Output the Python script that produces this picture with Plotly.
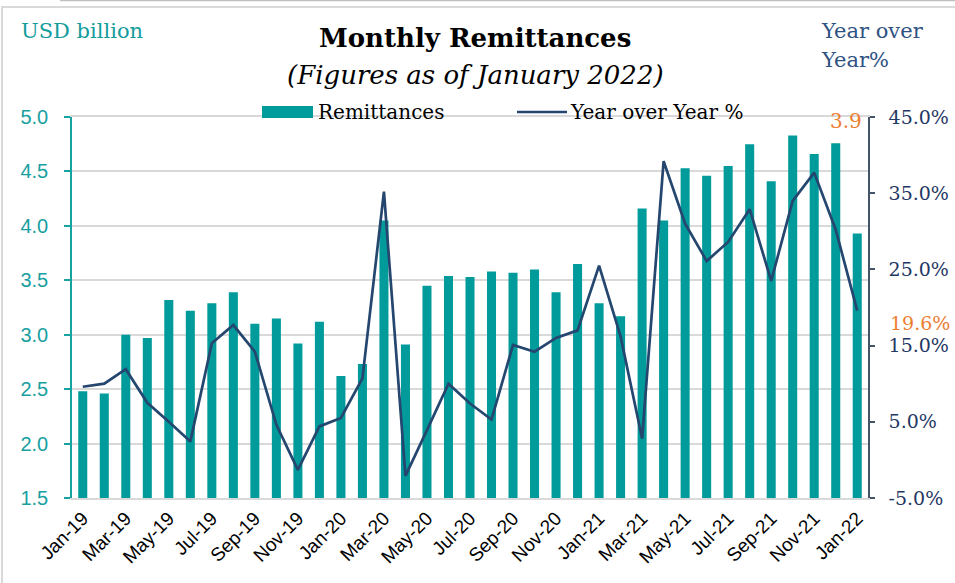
import plotly.graph_objects as go

months = ["Jan-19", "Feb-19", "Mar-19", "Apr-19", "May-19", "Jun-19", "Jul-19", "Aug-19",
          "Sep-19", "Oct-19", "Nov-19", "Dec-19", "Jan-20", "Feb-20", "Mar-20", "Apr-20",
          "May-20", "Jun-20", "Jul-20", "Aug-20", "Sep-20", "Oct-20", "Nov-20", "Dec-20",
          "Jan-21", "Feb-21", "Mar-21", "Apr-21", "May-21", "Jun-21", "Jul-21", "Aug-21",
          "Sep-21", "Oct-21", "Nov-21", "Dec-21", "Jan-22"]

remittances = [2.48, 2.46, 3.00, 2.97, 3.32, 3.22, 3.29, 3.39, 3.10, 3.15, 2.92, 3.12,
               2.62, 2.73, 4.05, 2.91, 3.45, 3.54, 3.53, 3.58, 3.57, 3.60, 3.39, 3.65,
               3.29, 3.17, 4.16, 4.05, 4.53, 4.46, 4.55, 4.75, 4.41, 4.83, 4.66, 4.76, 3.93]

yoy = [9.6, 10.0, 11.9, 7.5, 5.0, 2.4, 15.3, 17.7, 14.2, 4.6, -1.3, 4.4,
       5.5, 10.7, 35.2, -2.1, 3.9, 10.0, 7.4, 5.3, 15.1, 14.2, 16.0, 17.0,
       25.5, 16.2, 2.8, 39.2, 31.0, 26.1, 28.6, 32.9, 23.5, 34.0, 37.7, 30.2, 19.6]

tick_labels = months[::2]
left_ticks = [1.5, 2.0, 2.5, 3.0, 3.5, 4.0, 4.5, 5.0]
left_tick_text = ["1.5", "2.0", "2.5", "3.0", "3.5", "4.0", "4.5", "5.0"]
right_ticks = [-5, 5, 15, 25, 35, 45]
right_tick_text = ["-5.0%", "5.0%", "15.0%", "25.0%", "35.0%", "45.0%"]

TEAL = "#009B9A"
NAVY = "#24466F"
ORANGE = "#ED7D31"
SERIF = "DejaVu Serif"
SANS = "Liberation Sans"

fig = go.Figure()
fig.add_trace(go.Bar(x=months, y=remittances, name="Remittances",
                     marker=dict(color=TEAL, line=dict(width=0)), width=0.42))
fig.add_trace(go.Scatter(x=months, y=yoy, name="Year over Year %", yaxis="y2",
                         mode="lines", line=dict(color=NAVY, width=2.7)))

L, R, T, B = 72, 87, 117, 85
W, H = 955, 583
pw, ph = W - L - R, H - T - B

def px(x):
    return (x - L) / pw

def py(y):
    return (H - B - y) / ph

fig.update_layout(
    width=W, height=H,
    margin=dict(l=L, r=R, t=T, b=B, autoexpand=False),
    plot_bgcolor="white", paper_bgcolor="white",
    showlegend=False,
    xaxis=dict(type="category", tickmode="array", tickvals=tick_labels, ticktext=tick_labels,
               tickangle=-45, tickfont=dict(family=SANS, size=19, color="#000000"),
               showgrid=False, showline=True, linecolor="#D9D9D9", linewidth=1.5, mirror=True,
               ticks="", range=[-0.5, len(months) - 0.5], automargin=False),
    yaxis=dict(range=[1.5, 5.0], tickmode="array", tickvals=left_ticks, ticktext=left_tick_text,
               tickfont=dict(family=SANS, size=20, color="#17A0A0"),
               showgrid=True, gridcolor="#D9D9D9", gridwidth=1.5,
               showline=True, linecolor="#17A2A2", linewidth=1.5,
               ticks="outside", ticklen=6, tickcolor="#17A2A2", tickwidth=1.5,
               ticklabelstandoff=12, zeroline=False, automargin=False),
    yaxis2=dict(range=[-5, 45], overlaying="y", side="right", tickmode="array",
                tickvals=right_ticks, ticktext=right_tick_text,
                tickfont=dict(family=SERIF, size=19, color="#1F3864"),
                showgrid=False, showline=True, linecolor="#44546A", linewidth=1.5,
                ticks="outside", ticklen=5, tickcolor="#44546A", tickwidth=1.5,
                ticklabelstandoff=10, zeroline=False, automargin=False),
)

ann = []
ann.append(dict(text="<b>Monthly Remittances</b>", x=px(475), y=py(38), xref="paper", yref="paper",
                showarrow=False, xanchor="center", yanchor="middle",
                font=dict(family=SERIF, size=26, color="#000000")))
ann.append(dict(text="<i>(Figures as of January 2022)</i>", x=px(475), y=py(75), xref="paper", yref="paper",
                showarrow=False, xanchor="center", yanchor="middle",
                font=dict(family=SERIF, size=26, color="#000000")))
ann.append(dict(text="USD billion", x=px(19), y=py(31), xref="paper", yref="paper",
                showarrow=False, xanchor="left", yanchor="middle",
                font=dict(family=SERIF, size=21, color="#139C9C")))
ann.append(dict(text="Year over", x=px(819), y=py(31), xref="paper", yref="paper",
                showarrow=False, xanchor="left", yanchor="middle",
                font=dict(family=SERIF, size=21, color="#2F5283")))
ann.append(dict(text="Year%", x=px(819), y=py(60), xref="paper", yref="paper",
                showarrow=False, xanchor="left", yanchor="middle",
                font=dict(family=SERIF, size=21, color="#2F5283")))
ann.append(dict(text="3.9", x=px(864), y=py(121), xref="paper", yref="paper",
                showarrow=False, xanchor="right", yanchor="middle",
                font=dict(family=SERIF, size=20, color=ORANGE)))
ann.append(dict(text="19.6%", x=px(888), y=py(323), xref="paper", yref="paper",
                showarrow=False, xanchor="left", yanchor="middle",
                font=dict(family=SERIF, size=19, color=ORANGE)))
# legend
ann.append(dict(text="Remittances", x=px(316), y=py(112), xref="paper", yref="paper",
                showarrow=False, xanchor="left", yanchor="middle",
                font=dict(family=SERIF, size=20, color="#000000")))
ann.append(dict(text="Year over Year %", x=px(568), y=py(112), xref="paper", yref="paper",
                showarrow=False, xanchor="left", yanchor="middle",
                font=dict(family=SERIF, size=20, color="#000000")))

shapes = [
    dict(type="rect", xref="paper", yref="paper", x0=px(262), x1=px(313), y0=py(118), y1=py(106),
         fillcolor=TEAL, line=dict(width=0)),
    dict(type="line", xref="paper", yref="paper", x0=px(517), x1=px(567), y0=py(112), y1=py(112),
         line=dict(color=NAVY, width=2.7)),
    dict(type="line", xref="paper", yref="paper", x0=px(1), x1=px(960), y0=py(7), y1=py(7),
         line=dict(color="#D9D9D9", width=2)),
    dict(type="line", xref="paper", yref="paper", x0=px(2), x1=px(2), y0=py(7), y1=py(590),
         line=dict(color="#D9D9D9", width=2)),
    dict(type="line", xref="paper", yref="paper", x0=px(60), x1=px(960), y0=py(0.5), y1=py(0.5),
         line=dict(color="#BFBFBF", width=1.5)),
]
fig.update_layout(annotations=ann, shapes=shapes)

fig.write_html("out.html", config={"displayModeBar": False},
               post_script="document.body.style.margin='0';document.body.style.overflow='hidden';")
